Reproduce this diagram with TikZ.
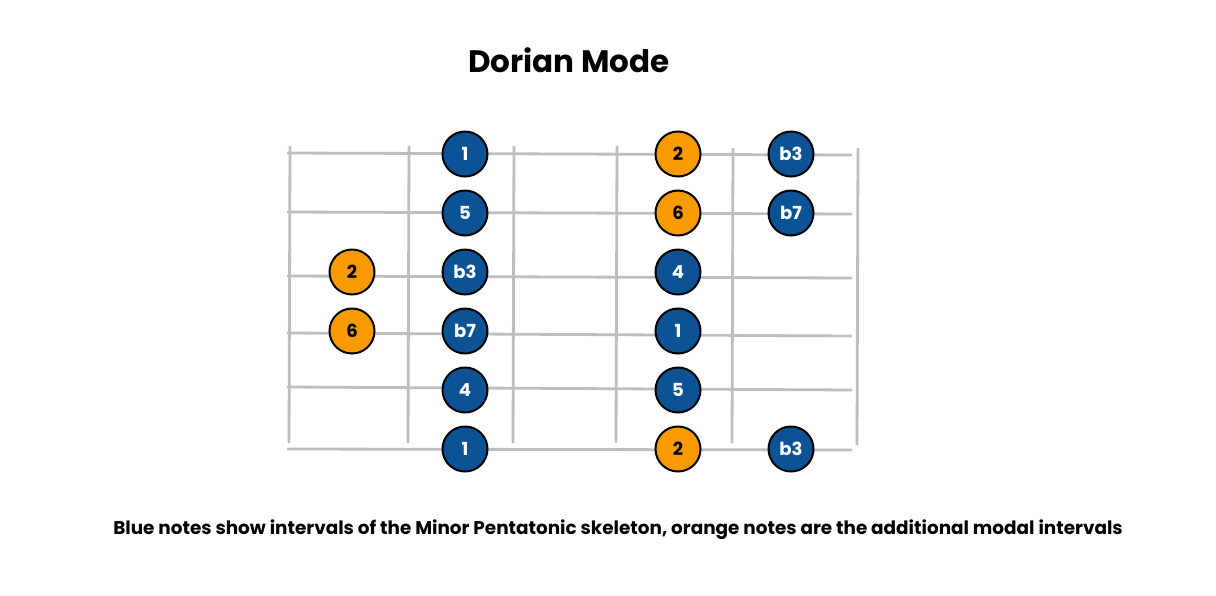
\documentclass[tikz,border=0pt]{standalone}
\usepackage{fontspec}
\setmainfont{Poppins}
\usepackage{xcolor}
\usepackage{tikz}
\usetikzlibrary{positioning}

\definecolor{noteblue}{RGB}{11,83,148}
\definecolor{noteorange}{RGB}{249,155,0}
\definecolor{fretgray}{RGB}{190,190,190}

\begin{document}
\begin{tikzpicture}[
        x=1pt, y=-1pt,
        string/.style={draw=fretgray, line width=2.8pt},
        fret/.style={draw=fretgray, line width=2.8pt},
        note/.style={circle, draw=black, line width=2pt, minimum size=45pt, inner sep=0pt, font=\fontsize{18}{18}\selectfont\bfseries},
        pent/.style={note, fill=noteblue, text=white},
        modal/.style={note, fill=noteorange, text=black}
    ]
        \useasboundingbox (0,0) rectangle (1216,595);

        % Title
        \node[font=\fontsize{31}{31}\selectfont\bfseries] (title) at (569,60) {Dorian Mode};

        % Strings
        \draw[string] (287,153) -- (852,155);
        \draw[string] (287,212) -- (852,214);
        \draw[string] (287,276) -- (852,278);
        \draw[string] (287,333) -- (852,336);
        \draw[string] (287,387) -- (852,390);
        \draw[string] (287,449) -- (852,450);

        % Frets
        \draw[fret] (290,146) -- (289,443);
        \draw[fret] (409,146) -- (408,443);
        \draw[fret] (514,146) -- (513,443);
        \draw[fret] (617,146) -- (616,443);
        \draw[fret] (733,148) -- (732,443);
        \draw[fret] (858,148) -- (857,445);

        % Notes
        \node[modal] (n2a) at (352,272) {2};
        \node[modal] (n6a) at (352,331) {6};

        \node[pent] (n1a) at (465,154) {1};
        \node[pent] (n5a) at (465,213) {5};
        \node[pent] (nb3a) at (465,272) {b3};
        \node[pent] (nb7a) at (465,331) {b7};
        \node[pent] (n4a) at (465,390) {4};
        \node[pent] (n1b) at (465,449) {1};

        \node[modal] (n2b) at (678,154) {2};
        \node[modal] (n6b) at (678,213) {6};
        \node[pent] (n4b) at (678,272) {4};
        \node[pent] (n1c) at (678,331) {1};
        \node[pent] (n5b) at (678,390) {5};
        \node[modal] (n2c) at (678,449) {2};

        \node[pent] (nb3b) at (791,154) {b3};
        \node[pent] (nb7b) at (791,213) {b7};
        \node[pent] (nb3c) at (791,449) {b3};

        % Caption
        \node[font=\fontsize{18.4}{18.4}\selectfont\bfseries] (caption) at (618,530) {Blue notes show intervals of the Minor Pentatonic skeleton, orange notes are the additional modal intervals};

    \end{tikzpicture}
\end{document}
